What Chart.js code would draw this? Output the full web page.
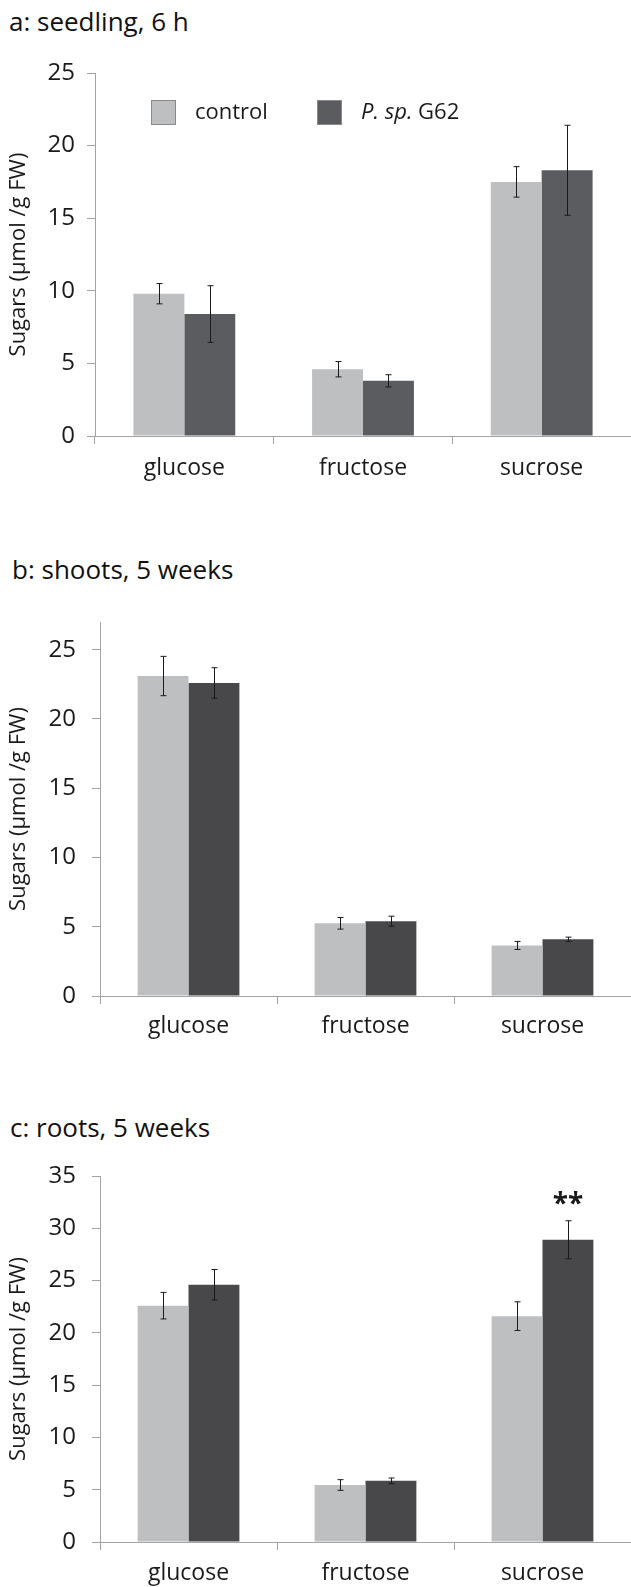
<!DOCTYPE html>
<html>
<head>
<meta charset="utf-8">
<script src="https://cdn.jsdelivr.net/npm/chart.js@4.4.0/dist/chart.umd.min.js"></script>
<style>
  body { margin: 0; background: #fff; width: 631px; height: 1587px; position: relative; overflow: hidden; }
  .panel { position: absolute; left: 0; }
  .title { position: absolute; font-family: 'Open Sans', sans-serif; font-size: 26px; color: #111; white-space: nowrap; }
  canvas { display: block; }
</style>
</head>
<body>
<div class="title" style="left:9px; top:3px;">a: seedling, 6 h</div>
<div class="panel" style="top:0px;"><canvas id="chartA" width="631" height="500"></canvas></div>

<div class="title" style="left:12px; top:551px;">b: shoots, 5 weeks</div>
<div class="panel" style="top:540px;"><canvas id="chartB" width="631" height="520"></canvas></div>

<div class="title" style="left:10px; top:1109px;">c: roots, 5 weeks</div>
<div class="panel" style="top:1100px;"><canvas id="chartC" width="631" height="487"></canvas></div>

<script>
// categories and series (µmol / g FW)
const categories = ['glucose', 'fructose', 'sucrose'];
const seriesNames = ['control', 'P. sp. G62'];

const seedlingControl = [9.8, 4.6, 17.5];
const seedlingControlErr = [0.7, 0.53, 1.05];
const seedlingG62 = [8.4, 3.8, 18.3];
const seedlingG62Err = [1.95, 0.42, 3.1];

const shootsControl = [23.1, 5.25, 3.65];
const shootsControlErr = [1.42, 0.42, 0.29];
const shootsG62 = [22.6, 5.4, 4.1];
const shootsG62Err = [1.1, 0.36, 0.15];

const rootsControl = [22.6, 5.45, 21.6];
const rootsControlErr = [1.27, 0.51, 1.37];
const rootsG62 = [24.6, 5.85, 28.9];
const rootsG62Err = [1.46, 0.27, 1.82];

const yTicksA = [0, 5, 10, 15, 20, 25];
const yTicksB = [0, 5, 10, 15, 20, 25];
const yTicksC = [0, 5, 10, 15, 20, 25, 30, 35];

Chart.defaults.font.family = "'Open Sans', sans-serif";
Chart.defaults.color = '#1a1a1a';

const LIGHT = '#bdbfc1';
const AXIS = '#a3a3a3';

// draw the error bars from each dataset's "errors" array
const errorBarsPlugin = {
    id: 'errorBars',
    afterDatasetsDraw(chart) {
        const ctx = chart.ctx;
        const yScale = chart.scales.y;
        ctx.save();
        ctx.strokeStyle = '#1a1a1a';
        ctx.lineWidth = 1;
        chart.data.datasets.forEach((ds, di) => {
            const meta = chart.getDatasetMeta(di);
            if (!ds.errors) return;
            meta.data.forEach((bar, i) => {
                const v = ds.data[i];
                const e = ds.errors[i];
                const x = Math.round(bar.x) + 0.5;
                const yTop = yScale.getPixelForValue(v + e);
                const yBot = yScale.getPixelForValue(v - e);
                ctx.beginPath();
                ctx.moveTo(x, yTop);
                ctx.lineTo(x, yBot);
                ctx.moveTo(x - 3, yTop);
                ctx.lineTo(x + 3, yTop);
                ctx.moveTo(x - 3, yBot);
                ctx.lineTo(x + 3, yBot);
                ctx.stroke();
            });
        });
        ctx.restore();
    }
};

// legend inside the plot of panel a, with the italic species name
const insideLegendPlugin = {
    id: 'insideLegend',
    afterDraw(chart, args, opts) {
        if (!opts.show) return;
        const ctx = chart.ctx;
        const area = chart.chartArea;
        const offsets = [56, 222];
        ctx.save();
        ctx.textBaseline = 'middle';
        chart.data.datasets.forEach((ds, i) => {
            const bx = area.left + offsets[i];
            const by = area.top + 27;
            ctx.fillStyle = ds.backgroundColor;
            ctx.fillRect(bx, by, 25, 25);
            ctx.strokeStyle = '#8a8a8a';
            ctx.lineWidth = 1;
            ctx.strokeRect(bx + 0.5, by + 0.5, 24, 24);
            let tx = bx + 25 + 19;
            const ty = by + 13;
            ctx.fillStyle = '#1a1a1a';
            if (ds.label.startsWith('P. sp.')) {
                ctx.font = "italic 22px 'Open Sans', sans-serif";
                ctx.fillText('P. sp.', tx, ty);
                tx += ctx.measureText('P. sp.').width;
                ctx.font = "22px 'Open Sans', sans-serif";
                ctx.fillText(ds.label.slice(6), tx, ty);
            } else {
                ctx.font = "22px 'Open Sans', sans-serif";
                ctx.fillText(ds.label, tx, ty);
            }
        });
        ctx.restore();
    }
};

// significance stars above a bar
const starsPlugin = {
    id: 'stars',
    afterDraw(chart, args, opts) {
        if (!opts.marks) return;
        const ctx = chart.ctx;
        ctx.save();
        ctx.font = "bold 28px 'Open Sans', sans-serif";
        ctx.fillStyle = '#1a1a1a';
        ctx.textAlign = 'center';
        ctx.textBaseline = 'alphabetic';
        opts.marks.forEach(m => {
            const ds = chart.data.datasets[m.dataset];
            const bar = chart.getDatasetMeta(m.dataset).data[m.index];
            const yTop = chart.scales.y.getPixelForValue(ds.data[m.index] + ds.errors[m.index]);
            ctx.fillText(m.text, bar.x, yTop - 8);
        });
        ctx.restore();
    }
};

function makeChart(id, control, controlErr, g62, g62Err, cfg) {
    const ctx = document.getElementById(id).getContext('2d');
    return new Chart(ctx, {
        type: 'bar',
        data: {
            labels: categories,
            datasets: [
                { label: seriesNames[0], data: control, errors: controlErr, backgroundColor: LIGHT,
                  categoryPercentage: cfg.catPct, barPercentage: 1.0 },
                { label: seriesNames[1], data: g62, errors: g62Err, backgroundColor: cfg.dark,
                  categoryPercentage: cfg.catPct, barPercentage: 1.0 }
            ]
        },
        options: {
            responsive: false,
            animation: false,
            layout: { padding: { top: cfg.top, right: 0, left: 0, bottom: 0 } },
            plugins: {
                legend: { display: false },
                tooltip: { enabled: false },
                insideLegend: { show: cfg.legend },
                stars: { marks: cfg.stars }
            },
            scales: {
                x: {
                    grid: { display: true, drawOnChartArea: false, drawTicks: true, tickLength: 8,
                            color: AXIS, offset: true },
                    border: { color: AXIS, width: 1 },
                    ticks: { font: { size: 23 }, padding: cfg.xPad, color: '#1a1a1a' },
                    afterFit(scale) { scale.height = cfg.xHeight; }
                },
                y: {
                    min: 0,
                    max: cfg.max,
                    afterBuildTicks(scale) { scale.ticks = cfg.ticks.map(v => ({ value: v })); },
                    grid: { display: true, drawOnChartArea: false, drawTicks: true, tickLength: 8, color: AXIS },
                    border: { color: AXIS, width: 1 },
                    ticks: { font: { size: 24 }, padding: cfg.tickPad, color: '#1a1a1a' },
                    title: { display: true, text: 'Sugars (µmol /g FW)', font: { size: 22 }, color: '#1a1a1a',
                             padding: { top: 6, bottom: 0 } },
                    afterFit(scale) { scale.width = cfg.left; }
                }
            }
        },
        plugins: [errorBarsPlugin, insideLegendPlugin, starsPlugin]
    });
}

makeChart('chartA', seedlingControl, seedlingControlErr, seedlingG62, seedlingG62Err, {
    max: 25, ticks: yTicksA, top: 73, xHeight: 64, left: 95, tickPad: 12, catPct: 0.57, xPad: 11,
    dark: '#5a5c5f', legend: true, stars: null
});
makeChart('chartB', shootsControl, shootsControlErr, shootsG62, shootsG62Err, {
    max: 27, ticks: yTicksB, top: 82, xHeight: 64, left: 100, tickPad: 16, catPct: 0.575, xPad: 9,
    dark: '#48484b', legend: false, stars: null
});
makeChart('chartC', rootsControl, rootsControlErr, rootsG62, rootsG62Err, {
    max: 35, ticks: yTicksC, top: 76, xHeight: 45, left: 100, tickPad: 16, catPct: 0.575, xPad: 10,
    dark: '#48484b', legend: false, stars: [{ dataset: 1, index: 2, text: '**' }]
});
</script>
</body>
</html>
